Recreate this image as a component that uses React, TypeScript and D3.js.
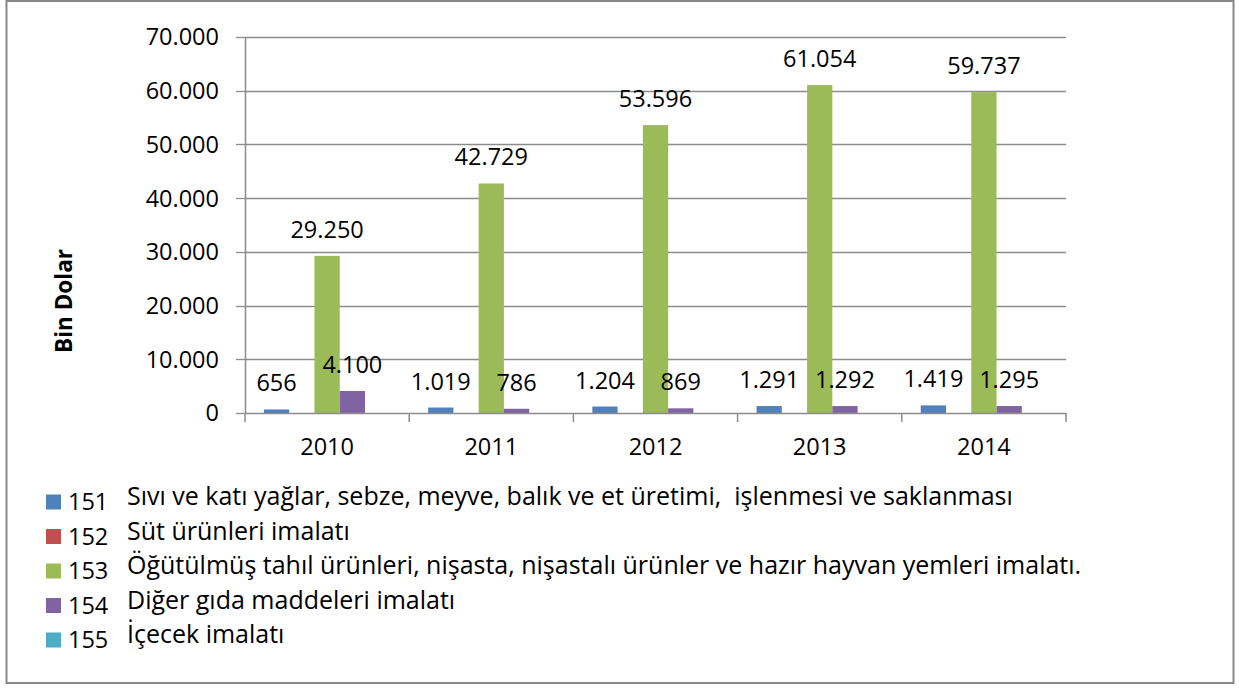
import React from "react";
import * as d3 from "d3";

const categories = ["2010", "2011", "2012", "2013", "2014"];
const seriesCodes = ["151", "152", "153", "154", "155"];
const seriesNames = [
  "Sıvı ve katı yağlar, sebze, meyve, balık ve et üretimi,  işlenmesi ve saklanması",
  "Süt ürünleri imalatı",
  "Öğütülmüş tahıl ürünleri, nişasta, nişastalı ürünler ve hazır hayvan yemleri imalatı.",
  "Diğer gıda maddeleri imalatı",
  "İçecek imalatı",
];
const seriesColors = ["#4F81BD", "#C0504D", "#9BBB59", "#8064A2", "#4BACC6"];
const values151 = [656, 1019, 1204, 1291, 1419];
const values152: (number | null)[] = [null, null, null, null, null];
const values153 = [29250, 42729, 53596, 61054, 59737];
const values154 = [4100, 786, 869, 1292, 1295];
const values155: (number | null)[] = [null, null, null, null, null];
const yTicks = [0, 10000, 20000, 30000, 40000, 50000, 60000, 70000];
const yTitle = "Bin Dolar";

const seriesValues = [values151, values152, values153, values154, values155];

const W = 1239;
const H = 688;
const FONT = "'Open Sans', Lato, sans-serif";
const GRID = "#8c8c8c";
const FS = 23.5;
const FS_LEG = 25;

const locale = d3.formatLocale({ decimal: ",", thousands: ".", grouping: [3], currency: ["", ""] });
const fmt = locale.format(",d");

export default function App() {
  const plotL = 245, plotR = 1066, plotT = 37, plotB = 413;
  const x = d3.scaleBand<string>().domain(categories).range([plotL, plotR]).padding(0);
  const y = d3.scaleLinear().domain([0, 70000]).range([plotB, plotT]);
  const inner = d3
    .scaleBand<string>()
    .domain(seriesCodes)
    .range([0, x.bandwidth()])
    .paddingInner(0)
    .paddingOuter(0.75);
  const barW = inner.bandwidth();

  const legendY0 = 502;
  const legendStep = 34.5;

  return (
    <svg
      width={W}
      height={H}
      style={{ position: "absolute", left: 0, top: 0, background: "#fff" }}
      fontFamily={FONT}
    >
      <rect x={0} y={0} width={W} height={H} fill="#fff" />
      <rect x={6.5} y={1} width={1227} height={682} fill="none" stroke="#888" strokeWidth={2} />

      {/* gridlines */}
      {yTicks.map((t) => (
        <g key={t}>
          {t !== 0 && (
            <line x1={plotL} x2={plotR} y1={Math.round(y(t)) + 0.5} y2={Math.round(y(t)) + 0.5} stroke={GRID} strokeWidth={1.3} />
          )}
          <line x1={236} x2={plotL} y1={Math.round(y(t)) + 0.5} y2={Math.round(y(t)) + 0.5} stroke={GRID} strokeWidth={1.3} />
          <text x={219} y={y(t)} dy="0.36em" textAnchor="end" fontSize={FS} fill="#000">
            {fmt(t)}
          </text>
        </g>
      ))}

      {/* bars */}
      {seriesValues.map((vals, si) =>
        categories.map((c, ci) => {
          const v = vals[ci];
          if (v == null) return null;
          const bx = (x(c) as number) + (inner(seriesCodes[si]) as number);
          return (
            <rect
              key={`${si}-${ci}`}
              x={bx}
              y={y(v)}
              width={barW}
              height={plotB - y(v)}
              fill={seriesColors[si]}
            />
          );
        })
      )}

      {/* axes */}
      <line x1={plotL + 0.5} x2={plotL + 0.5} y1={plotT} y2={plotB} stroke={GRID} strokeWidth={1.5} />
      <line x1={plotL} x2={plotR} y1={plotB + 0.5} y2={plotB + 0.5} stroke={GRID} strokeWidth={1.5} />
      {categories.concat(["end"]).map((c, i) => {
        const xx = i < categories.length ? (x(c) as number) : plotR;
        return <line key={`xt${i}`} x1={xx} x2={xx} y1={plotB} y2={plotB + 9} stroke={GRID} strokeWidth={1.5} />;
      })}
      {categories.map((c) => (
        <text key={c} x={(x(c) as number) + x.bandwidth() / 2} y={455} textAnchor="middle" fontSize={FS} fill="#000">
          {c}
        </text>
      ))}

      {/* data labels */}
      {seriesValues.map((vals, si) =>
        categories.map((c, ci) => {
          const v = vals[ci];
          if (v == null) return null;
          const cx = (x(c) as number) + (inner(seriesCodes[si]) as number) + barW / 2;
          return (
            <text key={`l${si}-${ci}`} x={cx} y={y(v) - 18} textAnchor="middle" fontSize={FS} fill="#000">
              {fmt(v)}
            </text>
          );
        })
      )}

      {/* y title */}
      <text
        transform={`translate(72, 301) rotate(-90)`}
        textAnchor="middle"
        fontSize={22.5}
        fontWeight="bold"
        fill="#000"
      >
        {yTitle}
      </text>

      {/* legend */}
      {seriesCodes.map((code, i) => {
        const cy = legendY0 + i * legendStep;
        return (
          <g key={code}>
            <rect x={46} y={cy - 7.5} width={15} height={15} fill={seriesColors[i]} />
            <text x={68} y={cy + 8} fontSize={FS} fill="#000">
              {code}
            </text>
            <text x={127} y={cy + 3} fontSize={FS_LEG} fill="#000" style={{ whiteSpace: "pre" }}>
              {seriesNames[i]}
            </text>
          </g>
        );
      })}
    </svg>
  );
}
